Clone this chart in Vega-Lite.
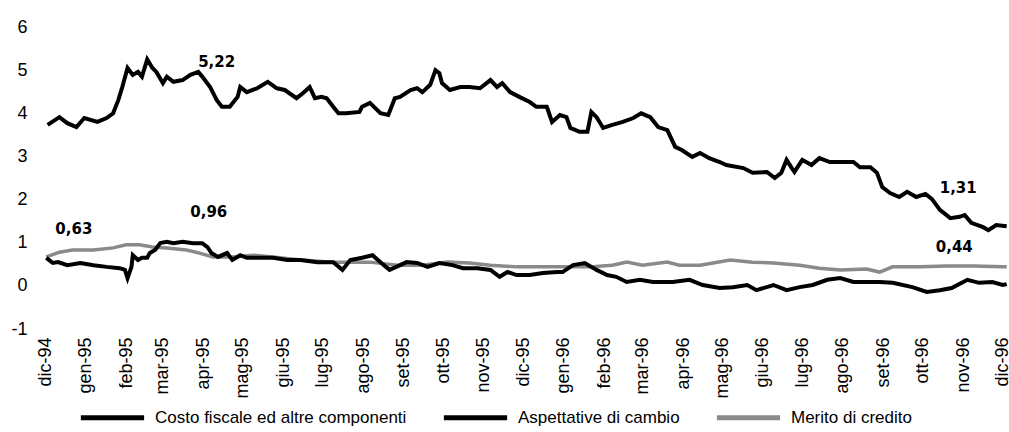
{
  "$schema": "https://vega.github.io/schema/vega-lite/v6.json",
  "width": 963,
  "height": 302,
  "autosize": {"type": "none"},
  "padding": {"left": 45, "top": 27, "right": 1, "bottom": 103},
  "background": "white",
  "config": {"view": {"stroke": null}, "font": "Liberation Sans"},
  "datasets": {
    "series": [
      {"d":"1994-12-03","s":"Costo fiscale ed altre componenti","v":3.73},
      {"d":"1994-12-12","s":"Costo fiscale ed altre componenti","v":3.91},
      {"d":"1994-12-18","s":"Costo fiscale ed altre componenti","v":3.77},
      {"d":"1994-12-25","s":"Costo fiscale ed altre componenti","v":3.68},
      {"d":"1994-12-31","s":"Costo fiscale ed altre componenti","v":3.89},
      {"d":"1995-01-10","s":"Costo fiscale ed altre componenti","v":3.80},
      {"d":"1995-01-17","s":"Costo fiscale ed altre componenti","v":3.89},
      {"d":"1995-01-22","s":"Costo fiscale ed altre componenti","v":4.00},
      {"d":"1995-01-26","s":"Costo fiscale ed altre componenti","v":4.31},
      {"d":"1995-01-29","s":"Costo fiscale ed altre componenti","v":4.61},
      {"d":"1995-02-02","s":"Costo fiscale ed altre componenti","v":5.05},
      {"d":"1995-02-06","s":"Costo fiscale ed altre componenti","v":4.89},
      {"d":"1995-02-10","s":"Costo fiscale ed altre componenti","v":4.96},
      {"d":"1995-02-13","s":"Costo fiscale ed altre componenti","v":4.85},
      {"d":"1995-02-17","s":"Costo fiscale ed altre componenti","v":5.25},
      {"d":"1995-02-21","s":"Costo fiscale ed altre componenti","v":5.05},
      {"d":"1995-02-24","s":"Costo fiscale ed altre componenti","v":4.96},
      {"d":"1995-03-01","s":"Costo fiscale ed altre componenti","v":4.70},
      {"d":"1995-03-04","s":"Costo fiscale ed altre componenti","v":4.85},
      {"d":"1995-03-09","s":"Costo fiscale ed altre componenti","v":4.73},
      {"d":"1995-03-16","s":"Costo fiscale ed altre componenti","v":4.77},
      {"d":"1995-03-22","s":"Costo fiscale ed altre componenti","v":4.89},
      {"d":"1995-03-28","s":"Costo fiscale ed altre componenti","v":4.96},
      {"d":"1995-03-31","s":"Costo fiscale ed altre componenti","v":4.85},
      {"d":"1995-04-06","s":"Costo fiscale ed altre componenti","v":4.61},
      {"d":"1995-04-11","s":"Costo fiscale ed altre componenti","v":4.31},
      {"d":"1995-04-15","s":"Costo fiscale ed altre componenti","v":4.15},
      {"d":"1995-04-21","s":"Costo fiscale ed altre componenti","v":4.15},
      {"d":"1995-04-27","s":"Costo fiscale ed altre componenti","v":4.38},
      {"d":"1995-04-29","s":"Costo fiscale ed altre componenti","v":4.61},
      {"d":"1995-05-04","s":"Costo fiscale ed altre componenti","v":4.49},
      {"d":"1995-05-12","s":"Costo fiscale ed altre componenti","v":4.58},
      {"d":"1995-05-20","s":"Costo fiscale ed altre componenti","v":4.73},
      {"d":"1995-05-27","s":"Costo fiscale ed altre componenti","v":4.58},
      {"d":"1995-06-02","s":"Costo fiscale ed altre componenti","v":4.54},
      {"d":"1995-06-11","s":"Costo fiscale ed altre componenti","v":4.35},
      {"d":"1995-06-16","s":"Costo fiscale ed altre componenti","v":4.47},
      {"d":"1995-06-21","s":"Costo fiscale ed altre componenti","v":4.61},
      {"d":"1995-06-25","s":"Costo fiscale ed altre componenti","v":4.35},
      {"d":"1995-06-30","s":"Costo fiscale ed altre componenti","v":4.38},
      {"d":"1995-07-04","s":"Costo fiscale ed altre componenti","v":4.35},
      {"d":"1995-07-09","s":"Costo fiscale ed altre componenti","v":4.15},
      {"d":"1995-07-13","s":"Costo fiscale ed altre componenti","v":4.00},
      {"d":"1995-07-19","s":"Costo fiscale ed altre componenti","v":4.00},
      {"d":"1995-07-29","s":"Costo fiscale ed altre componenti","v":4.03},
      {"d":"1995-07-31","s":"Costo fiscale ed altre componenti","v":4.15},
      {"d":"1995-08-06","s":"Costo fiscale ed altre componenti","v":4.24},
      {"d":"1995-08-14","s":"Costo fiscale ed altre componenti","v":4.00},
      {"d":"1995-08-20","s":"Costo fiscale ed altre componenti","v":3.96},
      {"d":"1995-08-25","s":"Costo fiscale ed altre componenti","v":4.35},
      {"d":"1995-08-29","s":"Costo fiscale ed altre componenti","v":4.38},
      {"d":"1995-09-06","s":"Costo fiscale ed altre componenti","v":4.54},
      {"d":"1995-09-11","s":"Costo fiscale ed altre componenti","v":4.58},
      {"d":"1995-09-15","s":"Costo fiscale ed altre componenti","v":4.49},
      {"d":"1995-09-21","s":"Costo fiscale ed altre componenti","v":4.66},
      {"d":"1995-09-25","s":"Costo fiscale ed altre componenti","v":5.00},
      {"d":"1995-09-28","s":"Costo fiscale ed altre componenti","v":4.93},
      {"d":"1995-09-30","s":"Costo fiscale ed altre componenti","v":4.70},
      {"d":"1995-10-06","s":"Costo fiscale ed altre componenti","v":4.54},
      {"d":"1995-10-14","s":"Costo fiscale ed altre componenti","v":4.61},
      {"d":"1995-10-21","s":"Costo fiscale ed altre componenti","v":4.61},
      {"d":"1995-10-29","s":"Costo fiscale ed altre componenti","v":4.58},
      {"d":"1995-11-06","s":"Costo fiscale ed altre componenti","v":4.77},
      {"d":"1995-11-11","s":"Costo fiscale ed altre componenti","v":4.61},
      {"d":"1995-11-15","s":"Costo fiscale ed altre componenti","v":4.70},
      {"d":"1995-11-21","s":"Costo fiscale ed altre componenti","v":4.49},
      {"d":"1995-11-28","s":"Costo fiscale ed altre componenti","v":4.38},
      {"d":"1995-12-06","s":"Costo fiscale ed altre componenti","v":4.26},
      {"d":"1995-12-11","s":"Costo fiscale ed altre componenti","v":4.15},
      {"d":"1995-12-19","s":"Costo fiscale ed altre componenti","v":4.15},
      {"d":"1995-12-23","s":"Costo fiscale ed altre componenti","v":3.80},
      {"d":"1995-12-29","s":"Costo fiscale ed altre componenti","v":3.96},
      {"d":"1996-01-03","s":"Costo fiscale ed altre componenti","v":3.91},
      {"d":"1996-01-06","s":"Costo fiscale ed altre componenti","v":3.66},
      {"d":"1996-01-13","s":"Costo fiscale ed altre componenti","v":3.57},
      {"d":"1996-01-19","s":"Costo fiscale ed altre componenti","v":3.57},
      {"d":"1996-01-22","s":"Costo fiscale ed altre componenti","v":4.03},
      {"d":"1996-01-26","s":"Costo fiscale ed altre componenti","v":3.91},
      {"d":"1996-01-31","s":"Costo fiscale ed altre componenti","v":3.66},
      {"d":"1996-02-07","s":"Costo fiscale ed altre componenti","v":3.73},
      {"d":"1996-02-15","s":"Costo fiscale ed altre componenti","v":3.80},
      {"d":"1996-02-23","s":"Costo fiscale ed altre componenti","v":3.89},
      {"d":"1996-02-29","s":"Costo fiscale ed altre componenti","v":4.00},
      {"d":"1996-03-07","s":"Costo fiscale ed altre componenti","v":3.91},
      {"d":"1996-03-13","s":"Costo fiscale ed altre componenti","v":3.68},
      {"d":"1996-03-20","s":"Costo fiscale ed altre componenti","v":3.61},
      {"d":"1996-03-26","s":"Costo fiscale ed altre componenti","v":3.22},
      {"d":"1996-03-31","s":"Costo fiscale ed altre componenti","v":3.15},
      {"d":"1996-04-08","s":"Costo fiscale ed altre componenti","v":2.99},
      {"d":"1996-04-14","s":"Costo fiscale ed altre componenti","v":3.08},
      {"d":"1996-04-21","s":"Costo fiscale ed altre componenti","v":2.96},
      {"d":"1996-04-29","s":"Costo fiscale ed altre componenti","v":2.87},
      {"d":"1996-05-04","s":"Costo fiscale ed altre componenti","v":2.80},
      {"d":"1996-05-17","s":"Costo fiscale ed altre componenti","v":2.73},
      {"d":"1996-05-24","s":"Costo fiscale ed altre componenti","v":2.62},
      {"d":"1996-06-04","s":"Costo fiscale ed altre componenti","v":2.64},
      {"d":"1996-06-10","s":"Costo fiscale ed altre componenti","v":2.50},
      {"d":"1996-06-15","s":"Costo fiscale ed altre componenti","v":2.62},
      {"d":"1996-06-19","s":"Costo fiscale ed altre componenti","v":2.92},
      {"d":"1996-06-23","s":"Costo fiscale ed altre componenti","v":2.73},
      {"d":"1996-06-25","s":"Costo fiscale ed altre componenti","v":2.64},
      {"d":"1996-07-01","s":"Costo fiscale ed altre componenti","v":2.92},
      {"d":"1996-07-08","s":"Costo fiscale ed altre componenti","v":2.80},
      {"d":"1996-07-14","s":"Costo fiscale ed altre componenti","v":2.96},
      {"d":"1996-07-22","s":"Costo fiscale ed altre componenti","v":2.87},
      {"d":"1996-07-30","s":"Costo fiscale ed altre componenti","v":2.87},
      {"d":"1996-08-09","s":"Costo fiscale ed altre componenti","v":2.87},
      {"d":"1996-08-14","s":"Costo fiscale ed altre componenti","v":2.75},
      {"d":"1996-08-22","s":"Costo fiscale ed altre componenti","v":2.75},
      {"d":"1996-08-27","s":"Costo fiscale ed altre componenti","v":2.62},
      {"d":"1996-08-31","s":"Costo fiscale ed altre componenti","v":2.29},
      {"d":"1996-09-06","s":"Costo fiscale ed altre componenti","v":2.15},
      {"d":"1996-09-13","s":"Costo fiscale ed altre componenti","v":2.06},
      {"d":"1996-09-19","s":"Costo fiscale ed altre componenti","v":2.18},
      {"d":"1996-09-26","s":"Costo fiscale ed altre componenti","v":2.06},
      {"d":"1996-10-03","s":"Costo fiscale ed altre componenti","v":2.13},
      {"d":"1996-10-08","s":"Costo fiscale ed altre componenti","v":2.01},
      {"d":"1996-10-14","s":"Costo fiscale ed altre componenti","v":1.76},
      {"d":"1996-10-22","s":"Costo fiscale ed altre componenti","v":1.57},
      {"d":"1996-10-29","s":"Costo fiscale ed altre componenti","v":1.60},
      {"d":"1996-11-02","s":"Costo fiscale ed altre componenti","v":1.64},
      {"d":"1996-11-07","s":"Costo fiscale ed altre componenti","v":1.46},
      {"d":"1996-11-16","s":"Costo fiscale ed altre componenti","v":1.36},
      {"d":"1996-11-20","s":"Costo fiscale ed altre componenti","v":1.29},
      {"d":"1996-11-26","s":"Costo fiscale ed altre componenti","v":1.41},
      {"d":"1996-12-04","s":"Costo fiscale ed altre componenti","v":1.38},

      {"d":"1994-12-02","s":"Aspettative di cambio","v":0.65},
      {"d":"1994-12-07","s":"Aspettative di cambio","v":0.53},
      {"d":"1994-12-11","s":"Aspettative di cambio","v":0.55},
      {"d":"1994-12-18","s":"Aspettative di cambio","v":0.48},
      {"d":"1994-12-28","s":"Aspettative di cambio","v":0.53},
      {"d":"1995-01-07","s":"Aspettative di cambio","v":0.48},
      {"d":"1995-01-17","s":"Aspettative di cambio","v":0.44},
      {"d":"1995-01-27","s":"Aspettative di cambio","v":0.41},
      {"d":"1995-01-31","s":"Aspettative di cambio","v":0.37},
      {"d":"1995-02-02","s":"Aspettative di cambio","v":0.18},
      {"d":"1995-02-05","s":"Aspettative di cambio","v":0.44},
      {"d":"1995-02-06","s":"Aspettative di cambio","v":0.71},
      {"d":"1995-02-10","s":"Aspettative di cambio","v":0.60},
      {"d":"1995-02-13","s":"Aspettative di cambio","v":0.65},
      {"d":"1995-02-17","s":"Aspettative di cambio","v":0.65},
      {"d":"1995-02-19","s":"Aspettative di cambio","v":0.76},
      {"d":"1995-02-23","s":"Aspettative di cambio","v":0.83},
      {"d":"1995-02-27","s":"Aspettative di cambio","v":0.99},
      {"d":"1995-03-04","s":"Aspettative di cambio","v":1.02},
      {"d":"1995-03-09","s":"Aspettative di cambio","v":0.99},
      {"d":"1995-03-16","s":"Aspettative di cambio","v":1.02},
      {"d":"1995-03-24","s":"Aspettative di cambio","v":0.99},
      {"d":"1995-03-31","s":"Aspettative di cambio","v":0.99},
      {"d":"1995-04-04","s":"Aspettative di cambio","v":0.90},
      {"d":"1995-04-07","s":"Aspettative di cambio","v":0.76},
      {"d":"1995-04-12","s":"Aspettative di cambio","v":0.67},
      {"d":"1995-04-19","s":"Aspettative di cambio","v":0.76},
      {"d":"1995-04-23","s":"Aspettative di cambio","v":0.60},
      {"d":"1995-04-29","s":"Aspettative di cambio","v":0.71},
      {"d":"1995-05-04","s":"Aspettative di cambio","v":0.65},
      {"d":"1995-05-14","s":"Aspettative di cambio","v":0.65},
      {"d":"1995-05-24","s":"Aspettative di cambio","v":0.65},
      {"d":"1995-06-04","s":"Aspettative di cambio","v":0.60},
      {"d":"1995-06-14","s":"Aspettative di cambio","v":0.60},
      {"d":"1995-06-27","s":"Aspettative di cambio","v":0.55},
      {"d":"1995-07-09","s":"Aspettative di cambio","v":0.55},
      {"d":"1995-07-16","s":"Aspettative di cambio","v":0.37},
      {"d":"1995-07-22","s":"Aspettative di cambio","v":0.60},
      {"d":"1995-07-31","s":"Aspettative di cambio","v":0.65},
      {"d":"1995-08-08","s":"Aspettative di cambio","v":0.71},
      {"d":"1995-08-14","s":"Aspettative di cambio","v":0.55},
      {"d":"1995-08-21","s":"Aspettative di cambio","v":0.37},
      {"d":"1995-08-29","s":"Aspettative di cambio","v":0.48},
      {"d":"1995-09-03","s":"Aspettative di cambio","v":0.55},
      {"d":"1995-09-11","s":"Aspettative di cambio","v":0.53},
      {"d":"1995-09-19","s":"Aspettative di cambio","v":0.44},
      {"d":"1995-09-28","s":"Aspettative di cambio","v":0.53},
      {"d":"1995-10-08","s":"Aspettative di cambio","v":0.48},
      {"d":"1995-10-16","s":"Aspettative di cambio","v":0.41},
      {"d":"1995-10-27","s":"Aspettative di cambio","v":0.41},
      {"d":"1995-11-06","s":"Aspettative di cambio","v":0.37},
      {"d":"1995-11-13","s":"Aspettative di cambio","v":0.21},
      {"d":"1995-11-19","s":"Aspettative di cambio","v":0.32},
      {"d":"1995-11-26","s":"Aspettative di cambio","v":0.25},
      {"d":"1995-12-06","s":"Aspettative di cambio","v":0.25},
      {"d":"1995-12-16","s":"Aspettative di cambio","v":0.30},
      {"d":"1995-12-27","s":"Aspettative di cambio","v":0.32},
      {"d":"1995-12-31","s":"Aspettative di cambio","v":0.32},
      {"d":"1996-01-08","s":"Aspettative di cambio","v":0.48},
      {"d":"1996-01-17","s":"Aspettative di cambio","v":0.53},
      {"d":"1996-01-26","s":"Aspettative di cambio","v":0.37},
      {"d":"1996-02-03","s":"Aspettative di cambio","v":0.25},
      {"d":"1996-02-10","s":"Aspettative di cambio","v":0.21},
      {"d":"1996-02-18","s":"Aspettative di cambio","v":0.09},
      {"d":"1996-02-28","s":"Aspettative di cambio","v":0.14},
      {"d":"1996-03-09","s":"Aspettative di cambio","v":0.09},
      {"d":"1996-03-20","s":"Aspettative di cambio","v":0.09},
      {"d":"1996-03-24","s":"Aspettative di cambio","v":0.09},
      {"d":"1996-04-06","s":"Aspettative di cambio","v":0.14},
      {"d":"1996-04-16","s":"Aspettative di cambio","v":0.02},
      {"d":"1996-04-29","s":"Aspettative di cambio","v":-0.05},
      {"d":"1996-05-09","s":"Aspettative di cambio","v":-0.03},
      {"d":"1996-05-20","s":"Aspettative di cambio","v":0.02},
      {"d":"1996-05-27","s":"Aspettative di cambio","v":-0.10},
      {"d":"1996-06-09","s":"Aspettative di cambio","v":0.02},
      {"d":"1996-06-19","s":"Aspettative di cambio","v":-0.10},
      {"d":"1996-06-29","s":"Aspettative di cambio","v":-0.03},
      {"d":"1996-07-09","s":"Aspettative di cambio","v":0.02},
      {"d":"1996-07-20","s":"Aspettative di cambio","v":0.14},
      {"d":"1996-07-30","s":"Aspettative di cambio","v":0.18},
      {"d":"1996-08-09","s":"Aspettative di cambio","v":0.09},
      {"d":"1996-08-19","s":"Aspettative di cambio","v":0.09},
      {"d":"1996-08-29","s":"Aspettative di cambio","v":0.09},
      {"d":"1996-09-08","s":"Aspettative di cambio","v":0.07},
      {"d":"1996-09-23","s":"Aspettative di cambio","v":-0.03},
      {"d":"1996-10-04","s":"Aspettative di cambio","v":-0.14},
      {"d":"1996-10-14","s":"Aspettative di cambio","v":-0.10},
      {"d":"1996-10-23","s":"Aspettative di cambio","v":-0.05},
      {"d":"1996-11-04","s":"Aspettative di cambio","v":0.14},
      {"d":"1996-11-13","s":"Aspettative di cambio","v":0.07},
      {"d":"1996-11-23","s":"Aspettative di cambio","v":0.09},
      {"d":"1996-12-01","s":"Aspettative di cambio","v":0.02},
      {"d":"1996-12-04","s":"Aspettative di cambio","v":0.04},

      {"d":"1994-12-02","s":"Merito di credito","v":0.67},
      {"d":"1994-12-12","s":"Merito di credito","v":0.78},
      {"d":"1994-12-22","s":"Merito di credito","v":0.83},
      {"d":"1995-01-07","s":"Merito di credito","v":0.83},
      {"d":"1995-01-22","s":"Merito di credito","v":0.88},
      {"d":"1995-02-01","s":"Merito di credito","v":0.95},
      {"d":"1995-02-11","s":"Merito di credito","v":0.95},
      {"d":"1995-02-21","s":"Merito di credito","v":0.90},
      {"d":"1995-03-04","s":"Merito di credito","v":0.88},
      {"d":"1995-03-19","s":"Merito di credito","v":0.83},
      {"d":"1995-03-29","s":"Merito di credito","v":0.76},
      {"d":"1995-04-08","s":"Merito di credito","v":0.67},
      {"d":"1995-04-23","s":"Merito di credito","v":0.67},
      {"d":"1995-05-09","s":"Merito di credito","v":0.71},
      {"d":"1995-05-24","s":"Merito di credito","v":0.67},
      {"d":"1995-06-14","s":"Merito di credito","v":0.60},
      {"d":"1995-07-09","s":"Merito di credito","v":0.55},
      {"d":"1995-07-22","s":"Merito di credito","v":0.55},
      {"d":"1995-08-06","s":"Merito di credito","v":0.55},
      {"d":"1995-08-27","s":"Merito di credito","v":0.48},
      {"d":"1995-09-15","s":"Merito di credito","v":0.48},
      {"d":"1995-10-04","s":"Merito di credito","v":0.55},
      {"d":"1995-10-21","s":"Merito di credito","v":0.53},
      {"d":"1995-11-06","s":"Merito di credito","v":0.48},
      {"d":"1995-11-26","s":"Merito di credito","v":0.44},
      {"d":"1995-12-11","s":"Merito di credito","v":0.44},
      {"d":"1995-12-31","s":"Merito di credito","v":0.44},
      {"d":"1996-01-21","s":"Merito di credito","v":0.44},
      {"d":"1996-02-07","s":"Merito di credito","v":0.48},
      {"d":"1996-02-18","s":"Merito di credito","v":0.55},
      {"d":"1996-03-01","s":"Merito di credito","v":0.48},
      {"d":"1996-03-20","s":"Merito di credito","v":0.55},
      {"d":"1996-03-29","s":"Merito di credito","v":0.48},
      {"d":"1996-04-14","s":"Merito di credito","v":0.48},
      {"d":"1996-05-07","s":"Merito di credito","v":0.60},
      {"d":"1996-05-24","s":"Merito di credito","v":0.55},
      {"d":"1996-06-09","s":"Merito di credito","v":0.53},
      {"d":"1996-06-29","s":"Merito di credito","v":0.48},
      {"d":"1996-07-14","s":"Merito di credito","v":0.41},
      {"d":"1996-07-30","s":"Merito di credito","v":0.37},
      {"d":"1996-08-19","s":"Merito di credito","v":0.39},
      {"d":"1996-08-29","s":"Merito di credito","v":0.32},
      {"d":"1996-09-08","s":"Merito di credito","v":0.44},
      {"d":"1996-09-29","s":"Merito di credito","v":0.44},
      {"d":"1996-10-19","s":"Merito di credito","v":0.46},
      {"d":"1996-11-09","s":"Merito di credito","v":0.46},
      {"d":"1996-12-01","s":"Merito di credito","v":0.44},
      {"d":"1996-12-04","s":"Merito di credito","v":0.44}
    ],
    "notes": [
      {"d":"1995-04-11","v":5.19,"t":"5,22"},
      {"d":"1994-12-23","v":1.32,"t":"0,63"},
      {"d":"1995-04-05","v":1.71,"t":"0,96"},
      {"d":"1996-10-28","v":2.27,"t":"1,31"},
      {"d":"1996-10-25","v":0.90,"t":"0,44"}
    ]
  },
  "encoding": {
    "x": {
      "field": "d",
      "type": "temporal",
      "scale": {"type": "utc", "domain": ["1994-12-01", "1996-12-05"]},
      "axis": {
        "title": null,
        "domain": false,
        "ticks": false,
        "grid": false,
        "labelAngle": -90,
        "labelPadding": 8,
        "labelFontSize": 18,
        "labelColor": "#000000",
        "labelOverlap": false,
        "labelFlush": false,
        "labelBound": false,
        "tickCount": {"interval": "month", "step": 1},
        "labelExpr": "['gen','feb','mar','apr','mag','giu','lug','ago','set','ott','nov','dic'][utcmonth(datum.value)] + '-' + utcFormat(datum.value, '%y')"
      }
    },
    "y": {
      "field": "v",
      "type": "quantitative",
      "scale": {"domain": [-1, 6], "nice": false, "zero": false},
      "axis": {
        "title": null,
        "domain": false,
        "ticks": false,
        "grid": false,
        "values": [-1, 0, 1, 2, 3, 4, 5, 6],
        "labelPadding": 18,
        "labelFontSize": 18,
        "labelColor": "#000000",
        "labelExpr": "'' + datum.value"
      }
    }
  },
  "layer": [
    {
      "data": {"name": "series"},
      "transform": [{"filter": "datum.s == 'Merito di credito'"}],
      "mark": {"type": "line", "strokeWidth": 3.5, "clip": false},
      "encoding": {
        "color": {"field": "s", "type": "nominal",
          "scale": {"domain": ["Costo fiscale ed altre componenti", "Aspettative di cambio", "Merito di credito"], "range": ["#000000", "#000000", "#8a8a8a"]},
          "legend": {
            "title": null, "orient": "none", "legendX": 33, "legendY": 356,
            "direction": "horizontal", "symbolType": "stroke", "symbolSize": 4000,
            "symbolStrokeWidth": 5, "labelFontSize": 17, "labelColor": "#000000",
            "labelOffset": 8, "columnPadding": 26, "labelLimit": 400
          }
        }
      }
    },
    {
      "data": {"name": "series"},
      "transform": [{"filter": "datum.s != 'Merito di credito'"}],
      "mark": {"type": "line", "strokeWidth": 4, "clip": false},
      "encoding": {
        "color": {"field": "s", "type": "nominal"}
      }
    },
    {
      "data": {"name": "notes"},
      "mark": {"type": "text", "font": "DejaVu Sans", "fontWeight": "bold", "fontSize": 15, "color": "#000000"},
      "encoding": {"text": {"field": "t"}}
    }
  ]
}
